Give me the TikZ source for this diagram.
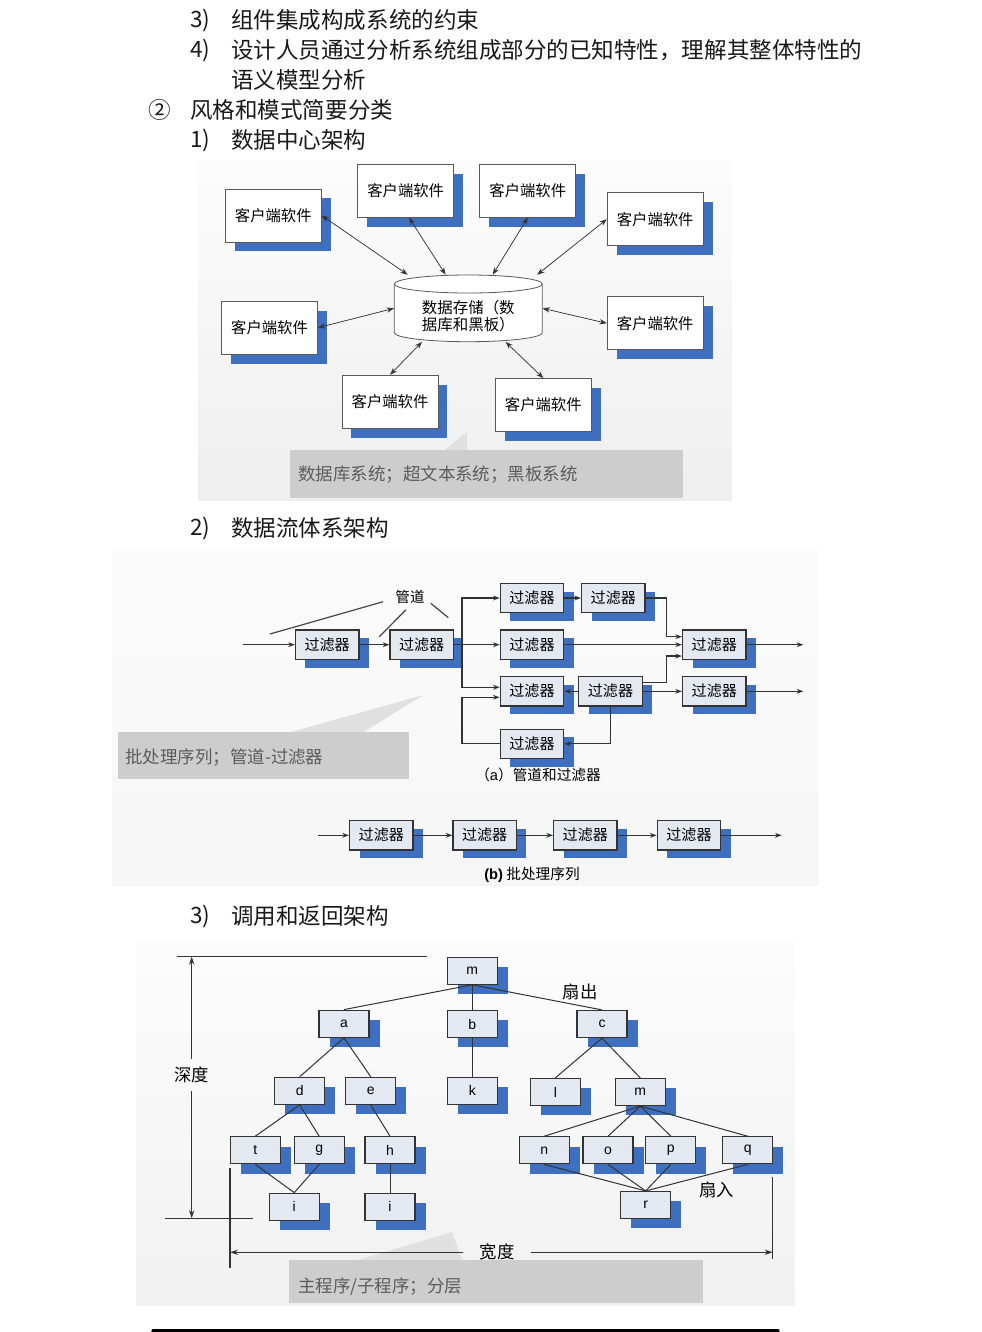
\documentclass[tikz,border=0pt]{standalone}
\usepackage{fontspec}
\setmainfont{Noto Sans CJK SC}
\newfontfamily\lsans{Liberation Sans}
\usetikzlibrary{calc,arrows.meta,positioning,shadows}
\definecolor{shadc}{HTML}{3F6FBF}
\definecolor{fltf}{HTML}{E3E8F1}
\definecolor{edgec}{HTML}{333333}
\definecolor{callc}{HTML}{CDCDCD}
\definecolor{wedgc}{HTML}{E0E0E0}
\definecolor{calltx}{HTML}{5C5C5C}
\tikzset{
  hd/.style={anchor=west,inner sep=0pt,text=black!90,font=\fontsize{16.9}{20}\selectfont},
  cli/.style={draw=gray!70!black,line width=0.6pt,fill=white,minimum width=72pt,minimum height=39.75pt,inner sep=0pt,
    font=\fontsize{11.5}{13}\selectfont,drop shadow={shadow xshift=7.1pt,shadow yshift=-7pt,fill=shadc,opacity=1}},
  flt/.style={draw=edgec,line width=0.9pt,fill=fltf,minimum width=47.6pt,minimum height=22pt,inner sep=0pt,
    font=\fontsize{11.3}{13}\selectfont,drop shadow={shadow xshift=7.5pt,shadow yshift=-6.2pt,fill=shadc,opacity=1}},
  tn/.style={draw=edgec,line width=0.9pt,fill=fltf,minimum width=37.5pt,minimum height=20.25pt,inner sep=0pt,
    font=\lsans\fontsize{10.5}{11}\selectfont,drop shadow={shadow xshift=8pt,shadow yshift=-7.4pt,fill=shadc,opacity=1}},
  cyl/.style={draw=gray!70!black,line width=0.6pt},
  arr/.style={{Stealth[length=5.5pt,width=4pt]}-{Stealth[length=5.5pt,width=4pt]},line width=0.55pt,black!80},
  pp/.style={-{Stealth[length=5pt,width=3.6pt]},line width=0.9pt,edgec},
  gl/.style={line width=0.9pt,gray!55!black},
  tedge/.style={line width=0.75pt,edgec},
  dimln/.style={line width=0.8pt,edgec},
  dima/.style={dimln,-{Stealth[length=6pt,width=4pt]}},
  lbl/.style={inner sep=0pt,font=\fontsize{10.9}{12}\selectfont},
  lbl3/.style={inner xsep=9pt,inner ysep=6pt,font=\fontsize{13}{15}\selectfont},
  captx/.style={inner sep=0pt,font=\fontsize{11}{13}\selectfont},
  calltext/.style={anchor=west,inner sep=0pt,text=calltx,font=\fontsize{13.1}{15}\selectfont}
}
\begin{document}
\begin{tikzpicture}[x=0.75pt,y=-0.75pt]
\useasboundingbox (0,0) rectangle (982,1332);
\fill[white] (0,0) rectangle (982,1332);

% headings
\node[hd] (n3) at (190,20) {3)};
\node[hd] (t3) at (231,20) {组件集成构成系统的约束};
\node[hd] (n4) at (190,50) {4)};
\node[hd] (t4) at (231,50) {设计人员通过分析系统组成部分的已知特性，理解其整体特性的};
\node[hd] (t4b) at (231,80) {语义模型分析};
\node[hd,anchor=center] (n2c) at (160,110) {②};
\node[hd] (t2c) at (190,110) {风格和模式简要分类};
\node[hd] (n1) at (190,140) {1)};
\node[hd] (t1) at (231,140) {数据中心架构};
\node[hd] (n2) at (190,528) {2)};
\node[hd] (t2) at (231,528) {数据流体系架构};
\node[hd] (n3b) at (190,916) {3)};
\node[hd] (t3b) at (231,916) {调用和返回架构};

% panels
\shade[top color=gray!2,bottom color=gray!13] (198,160) rectangle (732,500);
\shade[top color=gray!3,bottom color=gray!7] (112,550) rectangle (818,885);
\shade[top color=gray!2,bottom color=gray!11] (136,942) rectangle (795,1305);

% ---- data centred
\fill[wedgc] (445,450) -- (467,432) -- (467,450) -- cycle;
\fill[callc] (290,450) rectangle (683.3,498);
\node[calltext] (k1) at (298,475) {数据库系统；超文本系统；黑板系统};

\node[cli] (c1) at (273.3,215.5) {客户端软件};
\node[cli] (c2) at (405.7,190.7) {客户端软件};
\node[cli] (c3) at (527.8,190.7) {客户端软件};
\node[cli] (c4) at (655.2,219.2) {客户端软件};
\node[cli] (c5) at (269.5,327.7) {客户端软件};
\node[cli] (c6) at (655.2,323.3) {客户端软件};
\node[cli] (c7) at (390,401.7) {客户端软件};
\node[cli] (c8) at (543.3,405) {客户端软件};

\coordinate (dbc) at (468.3,308.3);
\fill[white] ($(dbc)+(-74,-24.3)$) -- ($(dbc)+(-74,24.4)$) arc[start angle=180,end angle=360,x radius=55.5pt,y radius=6.75pt]
  -- ($(dbc)+(74,-24.3)$) arc[start angle=0,end angle=180,x radius=55.5pt,y radius=6.75pt] -- cycle;
\draw[cyl] ($(dbc)+(-74,-24.3)$) -- ($(dbc)+(-74,24.4)$) arc[start angle=180,end angle=360,x radius=55.5pt,y radius=6.75pt]
  -- ($(dbc)+(74,-24.3)$);
\draw[cyl] ($(dbc)+(0,-24.3)$) ellipse[x radius=55.5pt,y radius=6.75pt];
\node[minimum width=111pt,minimum height=50pt,inner sep=0pt] (db) at (dbc) {};
\node[captx,align=center,font=\fontsize{11.6}{12.9}\selectfont] (dbt) at (468.3,316.5) {数据存储（数\\据库和黑板）};

\draw[arr] (c1.east) -- (db.151);
\draw[arr] (c2.-83) -- (db.124);
\draw[arr] (c3.south) -- (db.54);
\draw[arr] (c4.west) -- (db.26.5);
\draw[arr] (c5.east) -- (db.west);
\draw[arr] (c6.west) -- (db.east);
\draw[arr] (c7.north) -- (db.216.5);
\draw[arr] (c8.north) -- (db.318);

% ---- data flow
\fill[wedgc] (290,732.3) -- (423.3,695) -- (363.3,732.3) -- cycle;
\fill[callc] (118.3,732.3) rectangle (409.3,779.3);
\node[calltext] (k2) at (125,758) {批处理序列；管道-过滤器};

\node[flt] (f1) at (327.2,644.7) {过滤器};
\node[flt] (f2) at (421.7,644.7) {过滤器};
\node[flt] (f3) at (532,598) {过滤器};
\node[flt] (f4) at (613.3,598) {过滤器};
\node[flt] (f5) at (532,644.7) {过滤器};
\node[flt] (f6) at (532,691.3) {过滤器};
\node[flt] (f7) at (610.5,691.3) {过滤器};
\node[flt] (f8) at (532,743.8) {过滤器};
\node[flt] (f9) at (714.3,644.7) {过滤器};
\node[flt] (f10) at (714.3,691.3) {过滤器};

\coordinate (bx) at (462,0);
\coordinate (jx) at (666.7,0);
\coordinate (in1) at (242.7,644.7);
\coordinate (out1) at (803.3,644.7);
\coordinate (out2) at (803.3,691.3);
\draw[pp] (in1) -- (f1.west);
\draw[pp] (f1.east) -- (f2.west);
\draw[pp] (f2.east) -- (f5.west);
\draw[pp] (f2.east -| bx) |- (f3.west);
\draw[pp] (f2.east -| bx) |- ([yshift=3pt]f6.west);
\draw[pp] (f3.east) -- (f4.west);
\draw[pp] (f4.east) -- (f4.east -| jx) |- ([yshift=6pt]f9.west);
\draw[pp] (f5.east) -- (f9.west);
\draw[pp] ([yshift=6.5pt]f7.east) -- ([yshift=6.5pt]f7.east -| jx) |- ([yshift=-8.5pt]f9.west);
\draw[pp] (f7.east) -- (f10.west);
\draw[pp] (f7.west) -- (f6.east);
\draw[pp] (f7.south) |- (f8.east);
\draw[pp] (f8.west) -- (f8.west -| bx) |- ([yshift=-4.5pt]f6.west);
\draw[pp] (f9.east) -- (out1);
\draw[pp] (f10.east) -- (out2);

\node[lbl] (gd) at (410,596.7) {管道};
\coordinate (g1) at (270,634);
\coordinate (g2) at (379.3,636.7);
\coordinate (g3) at (448.3,617.7);
\draw[gl] (g1) -- ([shift={(-12,5)}]gd.west);
\draw[gl] (g2) -- ([shift={(-4,6)}]gd.south);
\draw[gl] ([shift={(6,6.6)}]gd.east) -- (g3);
\node[captx] (ca) at (538,775) {（{\lsans a}）管道和过滤器};

\coordinate (in2) at (318.3,835.3);
\coordinate (out3) at (781.7,835.3);
\node[flt] (fb1) at (381.3,835.3) {过滤器};
\node[flt] (fb2) at (484.7,835.3) {过滤器};
\node[flt] (fb3) at (585.3,835.3) {过滤器};
\node[flt] (fb4) at (689,835.3) {过滤器};
\draw[pp] (in2) -- (fb1.west);
\draw[pp] (fb1.east) -- (fb2.west);
\draw[pp] (fb2.east) -- (fb3.west);
\draw[pp] (fb3.east) -- (fb4.west);
\draw[pp] (fb4.east) -- (out3);
\node[captx] (cb) at (532,875) {{\lsans\bfseries (b)} 批处理序列};

% ---- call and return
\fill[wedgc] (358,1260) -- (452,1232) -- (462,1260) -- cycle;
\fill[callc] (289.3,1260) rectangle (703.3,1303.3);
\node[calltext] (k3) at (298,1287) {主程序/子程序；分层};

\node[tn] (m0) at (472.3,970.7) {m};
\node[tn] (a) at (344,1023.7) {a};
\node[tn] (b) at (472.3,1024) {b};
\node[tn] (c) at (602,1024) {c};
\node[tn] (d) at (299.7,1090.8) {d};
\node[tn] (e) at (370.7,1090.8) {e};
\node[tn] (k) at (472.3,1090.8) {k};
\node[tn] (l) at (555.3,1092) {l};
\node[tn] (m1) at (640.3,1092) {m};
\node[tn] (t) at (255.3,1150.3) {t};
\node[tn] (g) at (319.2,1150.3) {g};
\node[tn] (h) at (390,1150.3) {h};
\node[tn] (n) at (544.2,1150.3) {n};
\node[tn] (o) at (608,1150.3) {o};
\node[tn] (p) at (670.8,1150.3) {p};
\node[tn] (q) at (747.7,1150.3) {q};
\node[tn] (i1) at (294.3,1206.7) {i};
\node[tn] (i2) at (390,1206.7) {i};
\node[tn] (r) at (645.7,1205) {r};
\foreach \u/\v in {m0/a,m0/b,m0/c,a/d,a/e,b/k,c/l,c/m1,d/t,d/g,e/h,t/i1,g/i1,h/i2,m1/n,m1/o,m1/p,m1/q,n/r,o/r,p/r,q/r}
  \draw[tedge] (\u.south) -- (\v.north);

\node[lbl3,inner sep=0pt] (fo) at (580,991.7) {扇出};
\node[lbl3,inner sep=0pt] (fi) at (716.7,1190) {扇入};

\coordinate (dt1) at (176.7,956.7);
\coordinate (dt2) at (426.7,956.7);
\coordinate (db1) at (165,1218.3);
\coordinate (db2) at (253.3,1218.3);
\coordinate (dv1) at (191.7,956.7);
\coordinate (dv2) at (191.7,1218.3);
\draw[dimln] (dt1) -- (dt2);
\draw[dimln] (db1) -- (db2);
\node[lbl3] (sd) at (191.7,1075) {深度};
\draw[dima] (sd.north) -- (dv1);
\draw[dima] (sd.south) -- (dv2);

\coordinate (wl1) at (230,1168.3);
\coordinate (wl2) at (230,1268.3);
\coordinate (wr1) at (772.7,1176.7);
\coordinate (wr2) at (772.7,1259.3);
\draw[dimln] (wl1) -- (wl2);
\draw[dimln] (wr1) -- (wr2);
\node[lbl3,inner xsep=12pt] (kd) at (497,1252.3) {宽度};
\draw[dima] (kd.west) -- (wl1 |- kd.west);
\draw[dima] (kd.east) -- (wr1 |- kd.east);

% bottom edge bar
\draw[line width=2.4pt,line cap=round] (153,1331) -- (778,1331);
\end{tikzpicture}
\end{document}
